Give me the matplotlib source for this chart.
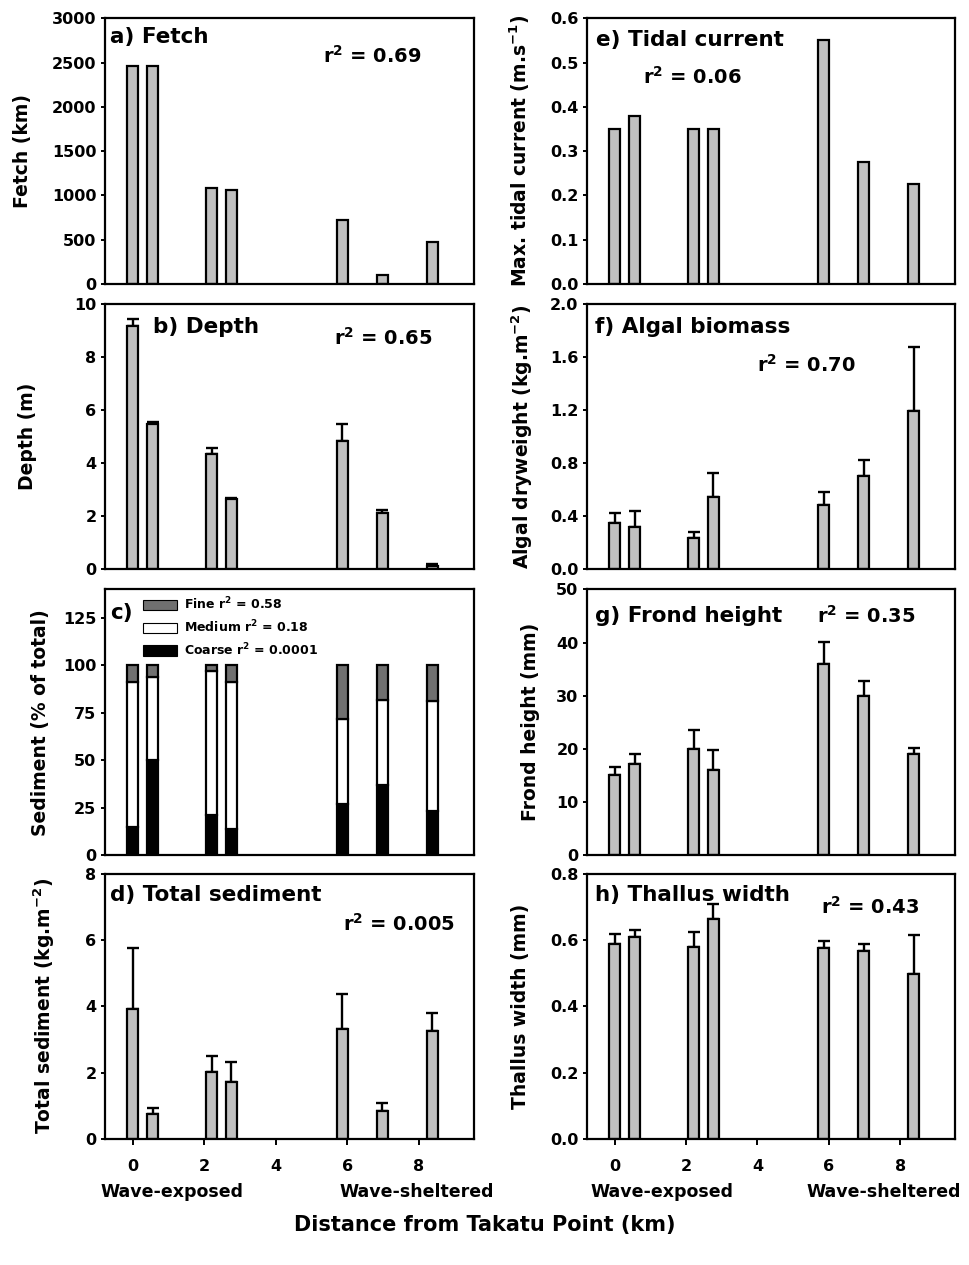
import numpy as np
import matplotlib
matplotlib.use('Agg')
import matplotlib.pyplot as plt
from matplotlib.patches import Patch

# distance of each site from Takatu Point (km)
sites = [0, 0.56, 2.21, 2.76, 5.86, 6.98, 8.38]

fetch = [2465, 2458, 1088, 1065, 719, 98, 470]
depth = [9.15, 5.46, 4.35, 2.64, 4.82, 2.11, 0.11]
depth_err = [0.27, 0.09, 0.22, 0.03, 0.64, 0.13, 0.09]
coarse = [15, 50, 21, 14, 27, 37, 23]
medium = [76, 44, 76, 77, 45, 45, 58]
fine = [9, 6, 3, 9, 28, 18, 19]
total_sed = [3.92, 0.75, 2.04, 1.72, 3.33, 0.84, 3.25]
total_sed_err = [1.84, 0.18, 0.47, 0.60, 1.05, 0.25, 0.55]

tidal = [0.35, 0.38, 0.35, 0.35, 0.55, 0.275, 0.226]
algal = [0.347, 0.32, 0.236, 0.543, 0.485, 0.70, 1.19]
algal_err = [0.073, 0.12, 0.044, 0.183, 0.098, 0.12, 0.48]
frond = [15.1, 17.1, 20.0, 16.0, 36.0, 30.0, 19.1]
frond_err = [1.5, 1.9, 3.6, 3.7, 4.1, 2.75, 1.0]
thallus = [0.589, 0.608, 0.578, 0.663, 0.576, 0.566, 0.498]
thallus_err = [0.028, 0.021, 0.045, 0.045, 0.022, 0.022, 0.117]

FONT = 'DejaVu Sans'
BAR_GREY = '#c0c0c0'
R2 = r'r$^\mathbf{2}$'


def style_axis(ax, ylim, yticks, ylabel, label_x, bottom_row, yfmt='{:g}'):
    ax.set_xlim(-0.78, 9.55)
    ax.set_ylim(*ylim)
    ax.set_yticks(yticks)
    ax.set_yticklabels([yfmt.format(t) for t in yticks], family=FONT,
                       fontsize=11.5, fontweight='bold')
    for sp in ax.spines.values():
        sp.set_linewidth(1.6)
    ax.tick_params(axis='y', direction='out', length=3, width=1.4, pad=3)
    if bottom_row:
        ax.set_xticks([0, 2, 4, 6, 8])
        ax.set_xticklabels(['0', '2', '4', '6', '8'], family=FONT,
                           fontsize=11.5, fontweight='bold')
        ax.tick_params(axis='x', direction='out', length=4, width=1.4, pad=10)
    else:
        ax.set_xticks([])
    ax.set_ylabel(ylabel, family=FONT, fontsize=13.5, fontweight='bold')
    ax.yaxis.set_label_coords(label_x, 0.5)


def bars(ax, vals, err=None):
    ax.bar(sites, vals, width=0.3, color=BAR_GREY, edgecolor='black',
           linewidth=1.6, zorder=2)
    if err is not None:
        ax.errorbar(sites, vals, yerr=[np.zeros(len(err)), err], fmt='none',
                    ecolor='black', elinewidth=1.7, capsize=4, capthick=1.7,
                    zorder=1)


def label(ax, x, y, text, size=15.5):
    ax.text(x, y, text, transform=ax.transAxes, family=FONT,
            fontsize=size, fontweight='bold', va='center', ha='left')


fig = plt.figure(figsize=(9.7, 12.65), dpi=100)
left_x, right_x = 0.108, 0.605
w_left, w_right = 0.381, 0.380
h = 0.210
bottoms = [0.7755, 0.55, 0.324, 0.0994]

# a) fetch
ax = fig.add_axes([left_x, bottoms[0], w_left, h])
bars(ax, fetch)
style_axis(ax, (0, 3000), [0, 500, 1000, 1500, 2000, 2500, 3000],
           'Fetch (km)', -0.198, False)
label(ax, 0.014, 0.93, 'a) Fetch')
label(ax, 0.59, 0.86, R2 + ' = 0.69', 14)

# b) depth
ax = fig.add_axes([left_x, bottoms[1], w_left, h])
bars(ax, depth, depth_err)
style_axis(ax, (0, 10), [0, 2, 4, 6, 8, 10], 'Depth (m)', -0.182, False)
label(ax, 0.13, 0.913, 'b) Depth')
label(ax, 0.62, 0.87, R2 + ' = 0.65', 14)

# c) sediment composition
ax = fig.add_axes([left_x, bottoms[2], w_left, h])
ax.bar(sites, coarse, width=0.3, color='black', edgecolor='black',
       linewidth=1.6)
ax.bar(sites, medium, bottom=coarse, width=0.3, color='white',
       edgecolor='black', linewidth=1.6)
ax.bar(sites, fine, bottom=np.add(coarse, medium), width=0.3,
       color='#707070', edgecolor='black', linewidth=1.6)
style_axis(ax, (0, 140), [0, 25, 50, 75, 100, 125],
           'Sediment (% of total)', -0.149, False)
label(ax, 0.014, 0.913, 'c)')
handles = [Patch(facecolor='#707070', edgecolor='black', linewidth=0.8),
           Patch(facecolor='white', edgecolor='black', linewidth=0.8),
           Patch(facecolor='black', edgecolor='black', linewidth=0.8)]
names = ['Fine ' + R2 + ' = 0.58', 'Medium ' + R2 + ' = 0.18',
         'Coarse ' + R2 + ' = 0.0001']
ax.legend(handles, names, loc='upper left', bbox_to_anchor=(0.08, 1.01),
          frameon=False, handlelength=2.7, handleheight=0.9,
          handletextpad=0.6, labelspacing=0.5, borderaxespad=0.3,
          prop={'family': FONT, 'weight': 'bold', 'size': 9})

# d) total sediment
ax = fig.add_axes([left_x, bottoms[3], w_left, h])
bars(ax, total_sed, total_sed_err)
style_axis(ax, (0, 8), [0, 2, 4, 6, 8],
           r'Total sediment (kg.m$^\mathbf{-2}$)', -0.130, True)
label(ax, 0.014, 0.92, 'd) Total sediment')
label(ax, 0.645, 0.81, R2 + ' = 0.005', 14)

# e) tidal current
ax = fig.add_axes([right_x, bottoms[0], w_right, h])
bars(ax, tidal)
style_axis(ax, (0, 0.6), [0, 0.1, 0.2, 0.3, 0.4, 0.5, 0.6],
           r'Max. tidal current (m.s$^\mathbf{-1}$)', -0.149, False, '{:.1f}')
label(ax, 0.025, 0.918, 'e) Tidal current')
label(ax, 0.153, 0.78, R2 + ' = 0.06', 14)

# f) algal biomass
ax = fig.add_axes([right_x, bottoms[1], w_right, h])
bars(ax, algal, algal_err)
style_axis(ax, (0, 2.0), [0, 0.4, 0.8, 1.2, 1.6, 2.0],
           r'Algal dryweight (kg.m$^\mathbf{-2}$)', -0.14, False, '{:.1f}')
label(ax, 0.023, 0.913, 'f) Algal biomass')
label(ax, 0.462, 0.77, R2 + ' = 0.70', 14)

# g) frond height
ax = fig.add_axes([right_x, bottoms[2], w_right, h])
bars(ax, frond, frond_err)
style_axis(ax, (0, 50), [0, 10, 20, 30, 40, 50], 'Frond height (mm)',
           -0.127, False)
label(ax, 0.023, 0.90, 'g) Frond height')
label(ax, 0.625, 0.90, R2 + ' = 0.35', 14)

# h) thallus width
ax = fig.add_axes([right_x, bottoms[3], w_right, h])
bars(ax, thallus, thallus_err)
style_axis(ax, (0, 0.8), [0, 0.2, 0.4, 0.6, 0.8], 'Thallus width (mm)',
           -0.154, True, '{:.1f}')
label(ax, 0.023, 0.92, 'h) Thallus width')
label(ax, 0.634, 0.876, R2 + ' = 0.43', 14)

# exposure annotations under the x axes
for ex, sh in [(0.1775, 0.430), (0.682, 0.911)]:
    fig.text(ex, 1 - 1192 / 1265, 'Wave-exposed', family=FONT,
             fontsize=12.5, fontweight='bold', ha='center', va='center')
    fig.text(sh, 1 - 1192 / 1265, 'Wave-sheltered', family=FONT,
             fontsize=12.5, fontweight='bold', ha='center', va='center')

fig.text(0.5, 1 - 1225 / 1265, 'Distance from Takatu Point (km)',
         family=FONT, fontsize=15, fontweight='bold', ha='center',
         va='center')

fig.savefig('out.png', dpi=100)
